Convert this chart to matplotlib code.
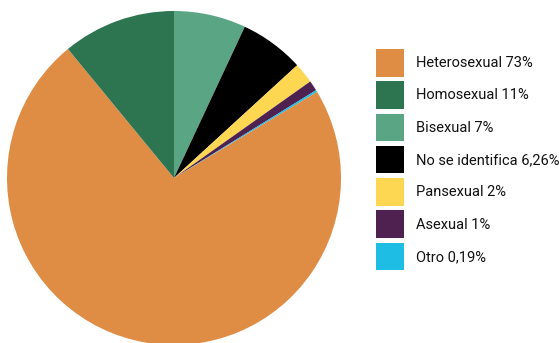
import matplotlib
matplotlib.use("Agg")
import matplotlib.pyplot as plt
from matplotlib.patches import Patch

categories = ["Heterosexual", "Homosexual", "Bisexual", "No se identifica",
              "Pansexual", "Asexual", "Otro"]
values = [73, 11, 7, 6.26, 2, 1, 0.19]
value_labels = ["73%", "11%", "7%", "6,26%", "2%", "1%", "0,19%"]
colors = ["#DF8C45", "#2D7451", "#5AA684", "#000000", "#FDD652", "#4E2150", "#1EBDE3"]

# clockwise drawing order starting at 12 o'clock
order = [2, 3, 4, 5, 6, 0, 1]

W, H = 559, 343
fig = plt.figure(figsize=(W / 100, H / 100), dpi=100)

cx, cy, r = 174, 178, 167
ax = fig.add_axes([(cx - r) / W, (H - cy - r) / H, 2 * r / W, 2 * r / H])
ax.pie([values[i] for i in order], colors=[colors[i] for i in order],
       startangle=90, counterclock=False, radius=1,
       wedgeprops=dict(linewidth=0))
ax.set_xlim(-1, 1)
ax.set_ylim(-1, 1)
ax.set_aspect("equal")
ax.axis("off")

handles = [Patch(facecolor=c, edgecolor="none") for c in colors]
labels = [f"{c} {v}" for c, v in zip(categories, value_labels)]
fs = 10.5  # points
px2pt = 0.72
hl = 28 * px2pt / fs
h_pt = 27.5 * px2pt
hh = (h_pt / fs - 0.245) / 0.65
leg = fig.legend(handles, labels, loc="upper left",
                 bbox_to_anchor=(376 / W, 1 - 49 / H),
                 frameon=False, borderpad=0, borderaxespad=0,
                 handlelength=hl, handleheight=hh,
                 handletextpad=12 * px2pt / fs, labelspacing=4.8 * px2pt / fs,
                 prop=dict(family="Roboto", size=fs))
for t in leg.get_texts():
    t.set_color("#111111")

fig.savefig("out.png", dpi=100)
